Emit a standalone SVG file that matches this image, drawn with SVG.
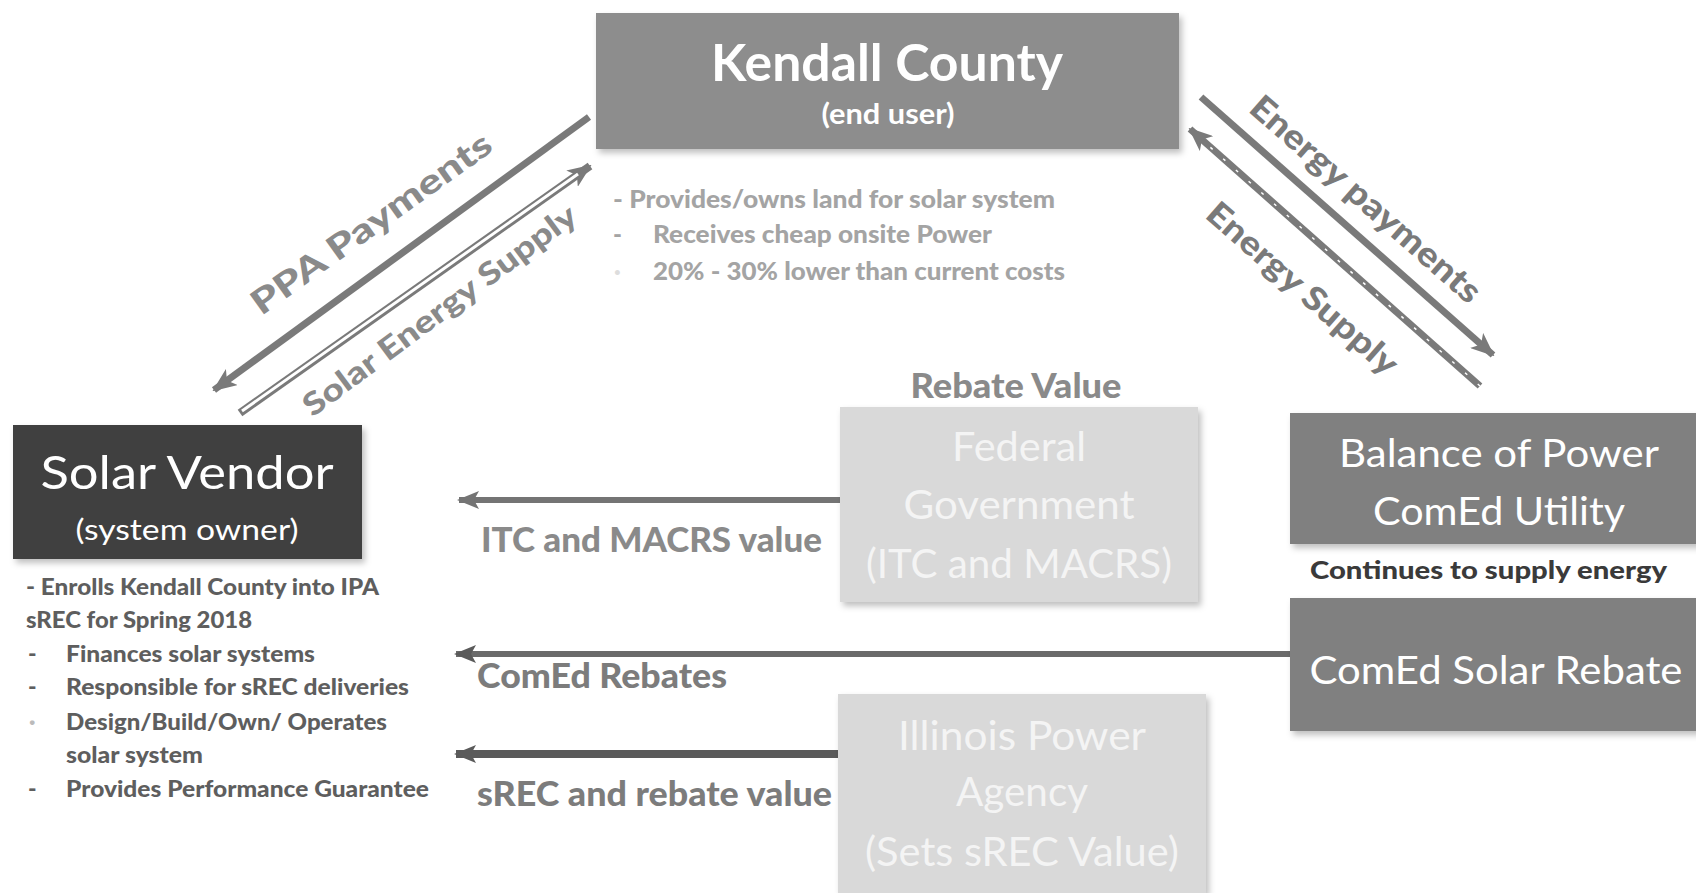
<svg xmlns="http://www.w3.org/2000/svg" width="1696" height="893" viewBox="0 0 1696 893">
<defs>
<style>
.box-t{font-family:Lato,"Open Sans","Liberation Sans",sans-serif;fill:#ffffff;}
.b{font-family:Lato,"Open Sans","Liberation Sans",sans-serif;font-weight:900;}
.lbl{font-family:Lato,"Open Sans","Liberation Sans",sans-serif;font-weight:900;fill:#8a8a8a;}
.kb{fill:#a4a4a4;font-size:24px;}
.sb{fill:#5e5e5e;font-size:23px;}
.light{fill:#f4f4f4;font-size:40px;}
.mid{fill:#ffffff;font-size:38px;}
</style>
<filter id="sh" x="-5%" y="-5%" width="112%" height="115%">
<feDropShadow dx="3" dy="4" stdDeviation="3" flood-color="#000" flood-opacity="0.25"/>
</filter>
<marker id="ah1" markerUnits="userSpaceOnUse" markerWidth="22" markerHeight="18" refX="20" refY="9" orient="auto">
<path d="M0,0 L22,9 L0,18 L5,9 Z" fill="#747474"/>
</marker>
<marker id="ah2" markerUnits="userSpaceOnUse" markerWidth="22" markerHeight="18" refX="20" refY="9" orient="auto">
<path d="M0,0 L22,9 L0,18 L5,9 Z" fill="#5a5a5a"/>
</marker>
<marker id="ah3" markerUnits="userSpaceOnUse" markerWidth="24" markerHeight="20" refX="22" refY="10" orient="auto">
<path d="M0,0 L24,10 L0,20 L6,10 Z" fill="#7a7a7a"/>
</marker>
</defs>
<rect x="0" y="0" width="1696" height="893" fill="#ffffff"/>

<g id="connectors">
<line x1="589" y1="117" x2="214" y2="390" stroke="#7a7a7a" stroke-width="7" marker-end="url(#ah3)"/>
<line x1="240" y1="413" x2="590" y2="166" stroke="#7a7a7a" stroke-width="8" marker-end="url(#ah3)"/>
<line x1="242" y1="411" x2="578" y2="174" stroke="#ffffff" stroke-width="3"/>
<line x1="1201" y1="97" x2="1493" y2="355" stroke="#7a7a7a" stroke-width="7" marker-end="url(#ah3)"/>
<line x1="1480" y1="386" x2="1190" y2="129" stroke="#7a7a7a" stroke-width="7" marker-end="url(#ah3)"/>
<line x1="1480" y1="386" x2="1202" y2="140" stroke="#ffffff" stroke-width="1.5" stroke-dasharray="3 14"/>
<line x1="840" y1="500" x2="459" y2="500" stroke="#747474" stroke-width="6" marker-end="url(#ah1)"/>
<line x1="1290" y1="654" x2="456" y2="654" stroke="#6a6a6a" stroke-width="6" marker-end="url(#ah2)"/>
<line x1="838" y1="754" x2="456" y2="754" stroke="#5a5a5a" stroke-width="8" marker-end="url(#ah2)"/>
<text class="lbl" x="378" y="233" font-size="34" text-anchor="middle" textLength="287" lengthAdjust="spacingAndGlyphs" transform="rotate(-35.5 378 233)">PPA Payments</text>
<text class="lbl" x="446" y="319" font-size="31" text-anchor="middle" textLength="332" lengthAdjust="spacingAndGlyphs" transform="rotate(-36.5 446 319)">Solar Energy Supply</text>
<text class="lbl" x="1358" y="208" font-size="34" text-anchor="middle" textLength="295" lengthAdjust="spacingAndGlyphs" style="fill:#7a7a7a" transform="rotate(41.3 1358 208)">Energy payments</text>
<text class="lbl" x="1295" y="297" font-size="33" text-anchor="middle" textLength="243" lengthAdjust="spacingAndGlyphs" style="fill:#7a7a7a" transform="rotate(41.3 1295 297)">Energy Supply</text>
<text class="lbl" x="481" y="552" font-size="34" textLength="341" lengthAdjust="spacingAndGlyphs">ITC and MACRS value</text>
<text class="lbl" x="477" y="688" font-size="34" textLength="250" lengthAdjust="spacingAndGlyphs" style="fill:#7c7c7c">ComEd Rebates</text>
<text class="lbl" x="477" y="806" font-size="34" textLength="355" lengthAdjust="spacingAndGlyphs" style="fill:#7c7c7c">sREC and rebate value</text>
</g>

<g id="kendall">
<rect x="596" y="13" width="583" height="136" fill="#8d8d8d" filter="url(#sh)"/>
<text class="box-t" x="887" y="81" font-size="52" font-weight="700" text-anchor="middle" textLength="352" lengthAdjust="spacingAndGlyphs">Kendall County</text>
<text class="box-t" x="888" y="124" font-size="28" font-weight="700" text-anchor="middle" textLength="133" lengthAdjust="spacingAndGlyphs">(end user)</text>
<text class="b kb" x="613" y="208" textLength="442" lengthAdjust="spacingAndGlyphs">- Provides/owns land for solar system</text>
<text class="b kb" x="613" y="243">-</text>
<text class="b kb" x="653" y="243" textLength="339" lengthAdjust="spacingAndGlyphs">Receives cheap onsite Power</text>
<text class="b kb" x="614" y="280" style="fill:#dddddd">·</text>
<text class="b kb" x="653" y="280" textLength="412" lengthAdjust="spacingAndGlyphs">20% - 30% lower than current costs</text>
</g>

<g id="solar-vendor">
<rect x="13" y="425" width="349" height="134" fill="#404040" filter="url(#sh)"/>
<text class="box-t" x="187" y="489" font-size="46" text-anchor="middle" textLength="293" lengthAdjust="spacingAndGlyphs">Solar Vendor</text>
<text class="box-t" x="187" y="540" font-size="29" text-anchor="middle" textLength="223" lengthAdjust="spacingAndGlyphs">(system owner)</text>
<text class="b sb" x="26" y="595" textLength="353" lengthAdjust="spacingAndGlyphs">- Enrolls Kendall County into IPA</text>
<text class="b sb" x="26" y="628" textLength="226" lengthAdjust="spacingAndGlyphs">sREC for Spring 2018</text>
<text class="b sb" x="28" y="662">-</text>
<text class="b sb" x="66" y="662" textLength="249" lengthAdjust="spacingAndGlyphs">Finances solar systems</text>
<text class="b sb" x="28" y="695">-</text>
<text class="b sb" x="66" y="695" textLength="343" lengthAdjust="spacingAndGlyphs">Responsible for sREC deliveries</text>
<text class="b sb" x="29" y="730" style="fill:#bbbbbb">·</text>
<text class="b sb" x="66" y="730" textLength="321" lengthAdjust="spacingAndGlyphs">Design/Build/Own/ Operates</text>
<text class="b sb" x="66" y="763" textLength="137" lengthAdjust="spacingAndGlyphs">solar system</text>
<text class="b sb" x="28" y="797">-</text>
<text class="b sb" x="66" y="797" textLength="363" lengthAdjust="spacingAndGlyphs">Provides Performance Guarantee</text>
</g>

<g id="federal">
<text class="lbl" x="1016" y="398" font-size="35" text-anchor="middle" textLength="211" lengthAdjust="spacingAndGlyphs">Rebate Value</text>
<rect x="840" y="407" width="358" height="195" fill="#d9d9d9" filter="url(#sh)"/>
<text class="box-t light" x="1019" y="461" text-anchor="middle" textLength="134" lengthAdjust="spacingAndGlyphs">Federal</text>
<text class="box-t light" x="1019" y="519" text-anchor="middle" textLength="231" lengthAdjust="spacingAndGlyphs">Government</text>
<text class="box-t light" x="1019" y="578" text-anchor="middle" textLength="306" lengthAdjust="spacingAndGlyphs">(ITC and MACRS)</text>
</g>

<g id="ipa">
<rect x="838" y="694" width="368" height="199" fill="#d9d9d9" filter="url(#sh)"/>
<text class="box-t light" x="1022" y="750" text-anchor="middle" textLength="248" lengthAdjust="spacingAndGlyphs">Illinois Power</text>
<text class="box-t light" x="1022" y="806" text-anchor="middle" textLength="132" lengthAdjust="spacingAndGlyphs">Agency</text>
<text class="box-t light" x="1022" y="866" text-anchor="middle" textLength="314" lengthAdjust="spacingAndGlyphs">(Sets sREC Value)</text>
</g>

<g id="comed-utility">
<rect x="1290" y="413" width="410" height="131" fill="#808080" filter="url(#sh)"/>
<text class="box-t mid" x="1499" y="467" text-anchor="middle" textLength="320" lengthAdjust="spacingAndGlyphs">Balance of Power</text>
<text class="box-t mid" x="1499" y="525" text-anchor="middle" textLength="252" lengthAdjust="spacingAndGlyphs">ComEd Utility</text>
<text class="b" x="1310" y="579" font-size="25" fill="#3a3a3a" textLength="357" lengthAdjust="spacingAndGlyphs">Continues to supply energy</text>
</g>

<g id="comed-rebate">
<rect x="1290" y="598" width="410" height="133" fill="#808080" filter="url(#sh)"/>
<text class="box-t mid" x="1496" y="684" text-anchor="middle" textLength="373" lengthAdjust="spacingAndGlyphs">ComEd Solar Rebate</text>
</g>
</svg>
